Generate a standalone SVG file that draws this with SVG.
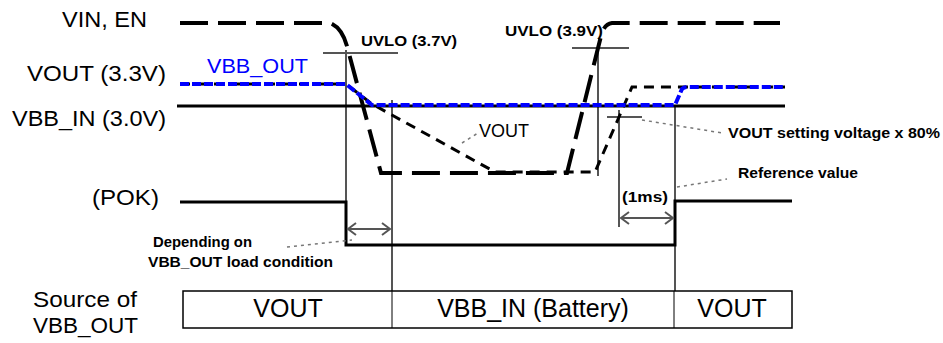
<svg xmlns="http://www.w3.org/2000/svg" width="943" height="343" viewBox="0 0 943 343">
<style>
text{font-family:"Liberation Sans",Arial,sans-serif;fill:#000}
.lbl{font-size:22px}
.box{font-size:25px}
.sm{font-size:15px;font-weight:bold}
.grid{stroke:#555;stroke-width:2;fill:none}
.lead{stroke:#777;stroke-width:1.5;stroke-dasharray:3 4;fill:none}
.vin{stroke:#000;stroke-width:4;stroke-dasharray:28 10;fill:none}
.vout{stroke:#000;stroke-width:3;stroke-dasharray:10 7;fill:none}
.vbbo{stroke:#0000ff;stroke-width:4;stroke-dasharray:9 3;fill:none}
.solid{stroke:#000;stroke-width:3;fill:none}
.arr{stroke:#555;stroke-width:2;fill:none}
</style>
<rect width="943" height="343" fill="#fff"/>

<g id="labels">
<text class="lbl" x="147" y="27" text-anchor="end" textLength="85" lengthAdjust="spacingAndGlyphs">VIN, EN</text>
<text class="lbl" x="166" y="81" text-anchor="end" textLength="139" lengthAdjust="spacingAndGlyphs">VOUT (3.3V)</text>
<text class="lbl" x="166" y="126" text-anchor="end" textLength="154" lengthAdjust="spacingAndGlyphs">VBB_IN (3.0V)</text>
<text class="lbl" x="159" y="205" text-anchor="end" textLength="67" lengthAdjust="spacingAndGlyphs">(POK)</text>
<text class="lbl" x="33" y="307" textLength="104" lengthAdjust="spacingAndGlyphs">Source of</text>
<text class="lbl" x="33" y="333" textLength="105" lengthAdjust="spacingAndGlyphs">VBB_OUT</text>
</g>

<g id="grid">
<line class="grid" x1="346" y1="50" x2="346" y2="202"/>
<line class="grid" x1="392" y1="100" x2="392" y2="291"/>
<line class="grid" x1="598" y1="48" x2="598" y2="176"/>
<line class="grid" x1="619" y1="110" x2="619" y2="227"/>
<line class="grid" x1="675" y1="106" x2="675" y2="291"/>
<line class="grid" x1="323" y1="53" x2="398" y2="53"/>
<line class="grid" x1="572" y1="48" x2="629" y2="48"/>
<line class="grid" x1="607" y1="117" x2="642" y2="117"/>
</g>

<g id="vbb_in">
<line class="solid" x1="177" y1="106" x2="785" y2="106"/>
</g>

<g id="pok">
<path class="solid" d="M180,202 H346 V245 H675 V201 H792"/>
</g>

<g id="vin_en">
<path class="vin" d="M180,23 L330,23 Q343,28 348,50 L381,173 L567,173 L601,36 Q604,24 612,23 L780,23"/>
</g>

<g id="vout">
<path class="vout" d="M180,84 L346,84 L372,104 L495,172 L595,172 L619,117 L632,87 L785,87"/>
</g>

<g id="vbb_out">
<path class="vbbo" d="M180,84 L346,84 L372,105 L675,105 L682,89 Q684,87 688,87 L785,87"/>
<text x="207" y="73" font-size="21" fill="#0000ff" style="fill:#0000ff" textLength="101" lengthAdjust="spacingAndGlyphs">VBB_OUT</text>
</g>

<g id="annotations">
<text class="sm" x="361" y="46" textLength="96" lengthAdjust="spacingAndGlyphs">UVLO (3.7V)</text>
<text class="sm" x="505" y="36" textLength="98" lengthAdjust="spacingAndGlyphs">UVLO (3.9V)</text>
<text x="479" y="137" font-size="18" textLength="50" lengthAdjust="spacingAndGlyphs">VOUT</text>
<line class="lead" x1="462" y1="143" x2="478" y2="133"/>
<text class="sm" x="728" y="138" textLength="212" lengthAdjust="spacingAndGlyphs">VOUT setting voltage x 80%</text>
<line class="lead" x1="642" y1="120" x2="722" y2="133"/>
<text class="sm" x="738" y="178" textLength="120" lengthAdjust="spacingAndGlyphs">Reference value</text>
<line class="lead" x1="677" y1="187" x2="727" y2="179"/>
<text class="sm" x="622" y="202" textLength="46" lengthAdjust="spacingAndGlyphs">(1ms)</text>
<text class="sm" x="153" y="247" textLength="99" lengthAdjust="spacingAndGlyphs">Depending on</text>
<text class="sm" x="148" y="267" textLength="185" lengthAdjust="spacingAndGlyphs">VBB_OUT load condition</text>
<line class="lead" x1="287" y1="247" x2="352" y2="240"/>
</g>

<g id="arrows">
<line class="arr" x1="348" y1="229" x2="390" y2="229"/>
<polyline class="arr" points="356,223 348,229 356,235"/>
<polyline class="arr" points="382,223 390,229 382,235"/>
<line class="arr" x1="621" y1="218" x2="673" y2="218"/>
<polyline class="arr" points="629,212 621,218 629,224"/>
<polyline class="arr" points="665,212 673,218 665,224"/>
</g>

<g id="source_boxes">
<rect x="183" y="291" width="609" height="37" fill="none" stroke="#000" stroke-width="1.5"/>
<line x1="392" y1="291" x2="392" y2="328" stroke="#000" stroke-width="1"/>
<line x1="674" y1="291" x2="674" y2="328" stroke="#000" stroke-width="1"/>
<text class="box" x="288" y="317" text-anchor="middle">VOUT</text>
<text class="box" x="533" y="317" text-anchor="middle">VBB_IN (Battery)</text>
<text class="box" x="732" y="317" text-anchor="middle">VOUT</text>
</g>
</svg>
